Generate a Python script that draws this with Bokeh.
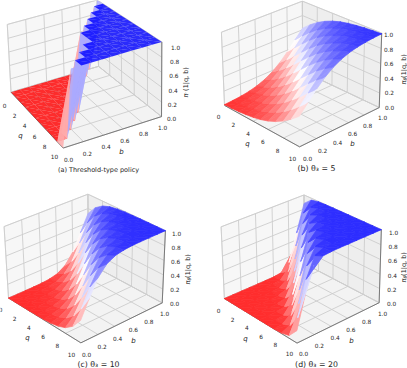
import numpy as np
from bokeh.plotting import figure
from bokeh.embed import file_html
from bokeh.resources import INLINE
from bokeh.core.properties import value

q_vals=[0,1,2,3,4,5,6,7,8,9,10]
b_vals=[0,.1,.2,.3,.4,.5,.6,.7,.8,.9,1.0]
q_ticks=[0,2,4,6,8,10]
b_ticks=[0,.2,.4,.6,.8,1.0]
z_ticks=[0,.2,.4,.6,.8,1.0]

Za=[[0,0,0,0,0,0,0,0,0,0,1],
[0,0,0,0,0,0,0,0,0,1,1],
[0,0,0,0,0,0,0,0,1,1,1],
[0,0,0,0,0,0,0,1,1,1,1],
[0,0,0,0,0,0,1,1,1,1,1],
[0,0,0,0,0,1,1,1,1,1,1],
[0,0,0,0,0,1,1,1,1,1,1],
[0,0,0,0,1,1,1,1,1,1,1],
[0,0,0,1,1,1,1,1,1,1,1],
[0,0,1,1,1,1,1,1,1,1,1],
[0,1,1,1,1,1,1,1,1,1,1]]
Zb=[[.011,.018,.029,.047,.076,.119,.182,.269,.378,.500,.622],
[.016,.027,.044,.070,.110,.169,.252,.357,.478,.601,.713],
[.025,.040,.064,.102,.157,.235,.336,.455,.579,.694,.789],
[.037,.059,.094,.146,.219,.316,.433,.557,.675,.774,.849],
[.054,.086,.135,.204,.297,.411,.535,.655,.758,.838,.895],
[.079,.125,.190,.279,.389,.512,.634,.741,.825,.886,.928],
[.115,.177,.261,.368,.490,.613,.723,.812,.877,.921,.951],
[.164,.244,.348,.468,.591,.705,.797,.866,.915,.946,.967],
[.228,.327,.445,.570,.686,.782,.856,.907,.942,.964,.978],
[.308,.423,.547,.666,.767,.844,.899,.936,.960,.976,.985],
[.401,.525,.646,.750,.832,.891,.931,.957,.973,.984,.990]]
Zc=[[0,0,.001,.002,.007,.018,.047,.119,.269,.500,.731],
[0,.001,.002,.006,.015,.040,.101,.235,.455,.694,.860],
[.001,.002,.005,.013,.034,.086,.204,.411,.655,.838,.933],
[.001,.004,.011,.028,.073,.177,.368,.613,.812,.921,.970],
[.003,.009,.024,.062,.152,.327,.570,.782,.907,.964,.986],
[.007,.020,.052,.130,.289,.525,.750,.891,.957,.984,.994],
[.017,.044,.111,.254,.480,.715,.872,.949,.981,.993,.997],
[.037,.094,.221,.435,.677,.851,.939,.977,.991,.997,.999],
[.080,.192,.392,.636,.826,.928,.972,.990,.996,.999,.999],
[.165,.350,.594,.799,.915,.967,.988,.995,.998,.999,1],
[.310,.550,.769,.900,.961,.985,.995,.998,.999,1,1]]
Zd=[[0,0,0,0,0,0,.002,.018,.119,.500,.881],
[0,0,0,0,0,.002,.013,.086,.411,.838,.974],
[0,0,0,0,.001,.009,.062,.327,.782,.964,.995],
[0,0,0,.001,.006,.044,.254,.715,.949,.993,.999],
[0,0,.001,.004,.031,.192,.636,.928,.990,.999,1],
[0,0,.003,.022,.142,.550,.900,.985,.998,1,1],
[0,.002,.015,.103,.460,.863,.979,.997,1,1,1],
[.001,.011,.074,.373,.815,.970,.996,.999,1,1,1],
[.008,.053,.293,.754,.958,.994,.999,1,1,1,1],
[.038,.224,.681,.940,.992,.999,1,1,1,1,1],
[.168,.599,.917,.988,.998,1,1,1,1,1,1]]

P=dict(
 a=dict(Z=Za,alpha=0.82,A=(10,93),B=(62,147),C=(160,116),D=(100,65),A1=(8,23),C1=(163,42),D1=(94,0),
   ql=((4,105),(54,156)),bl=((68,159),(162,127)),zl=((171,118),(175,47)),qn=(20,135),bn=(121,151),zn=(185,82),cap="(a) Threshold-type policy",capxy=(98,169),caps=6.5,zt=["π","′","(1|q, b)"]),
 b=dict(Z=Zb,alpha=1,A=(224,104),B=(299,147),C=(379,106),D=(302,72),A1=(221,32),C1=(381,33),D1=(302,0),
   ql=((218,116),(292,158)),bl=((307,158),(382,117)),zl=((389,107),(388,34)),qn=(247,143),bn=(352,143),zn=(403,69),cap="(b) θ₃ = 5",capxy=(316,168),caps=7.8,zt=["π","θ","(1|q, b)"]),
 c=dict(Z=Zc,alpha=1,A=(8,297),B=(80,343),C=(162,301),D=(88,264),A1=(4,226),C1=(165,231),D1=(87,193),
   ql=((0,309),(71,354)),bl=((86,354),(164,313)),zl=((174,303),(176,233)),qn=(27,337),bn=(133,340),zn=(187,269),cap="(c) θ₃ = 10",capxy=(98,364),caps=7.8,zt=["π","θ","(1|q, b)"]),
 d=dict(Z=Zd,alpha=1,A=(224,298),B=(296,343),C=(379,301),D=(304,264),A1=(221,226),C1=(381,230),D1=(303,194),
   ql=((218,310),(289,353)),bl=((303,353),(382,313)),zl=((391,303),(393,232)),qn=(245,338),bn=(351,340),zn=(403,267),cap="(d) θ₃ = 20",capxy=(316,364),caps=7.8,zt=["π","θ","(1|q, b)"]),
)

def camera(pn):
    pts=[((0,0,0),pn["A"]),((1,0,0),pn["B"]),((1,1,0),pn["C"]),((0,1,0),pn["D"]),((0,0,1),pn["A1"]),((1,1,1),pn["C1"]),((0,1,1),pn["D1"])]
    M=[]
    for (x,y,z),(u,v) in pts:
        M.append([x,y,z,1,0,0,0,0,-u*x,-u*y,-u*z,-u])
        M.append([0,0,0,0,x,y,z,1,-v*x,-v*y,-v*z,-v])
    return np.linalg.svd(np.array(M,float))[2][-1].reshape(3,4)

def proj(H,q,b,z):
    h=H@np.array([q/10,b,z,1.0])
    return h[0]/h[2],h[1]/h[2],h[2]

def bwr_r(v,alpha):
    # opaque panels use the colour of an 82 % facet laid on white, so that facets close without seams
    if v<.5:
        t=v*2; c=(255,255*t,255*t)
    else:
        t=(1-v)*2; c=(255*t,255*t,255)
    m=0.82 if alpha==1 else 1
    return "#%02x%02x%02x"%tuple(int(m*x+(1-m)*255) for x in c)

p=figure(width=407,height=368,x_range=(0,407),y_range=(368,0),output_backend="svg",toolbar_location=None,min_border=0,
         styles={"position":"absolute","left":"0px","top":"0px"})
p.axis.visible=False; p.grid.visible=False; p.outline_line_color=None; p.background_fill_color="white"
FONT=value("DejaVu Sans")
def lerp(a,b,t): return (a[0]+(b[0]-a[0])*t,a[1]+(b[1]-a[1])*t)

for key,pn in P.items():
    H=camera(pn)
    pr=lambda q,b,z:proj(H,q,b,z)[:2]
    panes=[([(0,0,0),(0,1,0),(0,1,1),(0,0,1)],"#f7f7f7"),([(0,1,0),(10,1,0),(10,1,1),(0,1,1)],"#eeeeee"),([(0,0,0),(10,0,0),(10,1,0),(0,1,0)],"#f3f3f3")]
    for pts,c in panes:
        xy=[pr(*t) for t in pts]
        p.patch([a for a,_ in xy],[b for _,b in xy],fill_color=c,line_color="#d8d8d8",line_width=0.8)
    gx=[];gy=[]
    def seg(s,e):
        a=pr(*s);b=pr(*e);gx.append([a[0],b[0]]);gy.append([a[1],b[1]])
    for q in q_ticks: seg((q,0,0),(q,1,0));seg((q,1,0),(q,1,1))
    for b in b_ticks: seg((0,b,0),(10,b,0));seg((0,b,0),(0,b,1))
    for z in z_ticks: seg((0,0,z),(0,1,z));seg((0,1,z),(10,1,z))
    p.multi_line(gx,gy,line_color="#cdcdcd",line_width=0.9)
    sx=[];sy=[]
    def sp(s,e):
        a=pr(*s);b=pr(*e);sx.append([a[0],b[0]]);sy.append([a[1],b[1]])
    sp((0,0,0),(10,0,0));sp((10,0,0),(10,1,0));sp((10,1,0),(10,1,1))
    p.multi_line(sx,sy,line_color="#555555",line_width=0.7)
    Z=pn["Z"]; tris=[]; al=pn["alpha"]
    for n in range(10):
        for j in range(10):
            c=[(n,j),(n+1,j),(n+1,j+1),(n,j+1)]
            for tri in ((c[0],c[1],c[2]),(c[0],c[2],c[3])):
                pts=[(q_vals[a],b_vals[b],Z[a][b]) for a,b in tri]
                prj=[proj(H,*t) for t in pts]
                tris.append((np.mean([t[2] for t in prj]),[t[0] for t in prj],[t[1] for t in prj],bwr_r(np.mean([t[2] for t in pts]),al)))
    near=proj(H,10,0,0)[2]; far=proj(H,0,1,0)[2]
    tris.sort(key=lambda t:t[0],reverse=near<far)
    cols=[t[3] for t in tris]
    if al==1:
        p.patches([t[1] for t in tris],[t[2] for t in tris],fill_color=cols,line_color=cols,line_width=0.7)
    else:
        p.patches([t[1] for t in tris],[t[2] for t in tris],fill_color=cols,fill_alpha=al,line_color=None)
    tx=[];ty=[];tt=[]
    for q in q_ticks:
        a=lerp(*pn["ql"],q/10);tx.append(a[0]);ty.append(a[1]);tt.append(str(q))
    for b in b_ticks:
        a=lerp(*pn["bl"],b);tx.append(a[0]);ty.append(a[1]);tt.append("%.1f"%b)
    for z in z_ticks:
        a=lerp(*pn["zl"],z);tx.append(a[0]);ty.append(a[1]);tt.append("%.1f"%z)
    p.text(tx,ty,text=tt,text_font=FONT,text_font_size="5.8px",text_align="center",text_baseline="middle",text_color="#262626")
    for nm,k in (("q","qn"),("b","bn")):
        p.text([pn[k][0]],[pn[k][1]],text=[nm],text_font=FONT,text_font_size="7px",text_font_style="italic",text_align="center",text_baseline="middle",text_color="#262626")
    zx,zy=pn["zn"]; seglist=pn["zt"]
    y0=zy+15
    p.text([zx],[y0],text=[seglist[0]],text_font=FONT,text_font_size="6.5px",text_font_style="italic",angle=90,angle_units="deg",text_align="left",text_baseline="middle",text_color="#262626")
    p.text([zx+1.5],[y0-3.9],text=[seglist[1]],text_font=FONT,text_font_size="4.8px",text_font_style="italic",angle=90,angle_units="deg",text_align="left",text_baseline="middle",text_color="#262626")
    p.text([zx],[y0-6.6],text=[seglist[2]],text_font=FONT,text_font_size="6.5px",angle=90,angle_units="deg",text_align="left",text_baseline="middle",text_color="#262626")
    p.text([pn["capxy"][0]],[pn["capxy"][1]],text=[pn["cap"]],text_font=FONT,text_font_size="%gpx"%pn["caps"],text_align="center",text_baseline="middle",text_color="#262626")

open("out.html","w").write(file_html(p,INLINE))
